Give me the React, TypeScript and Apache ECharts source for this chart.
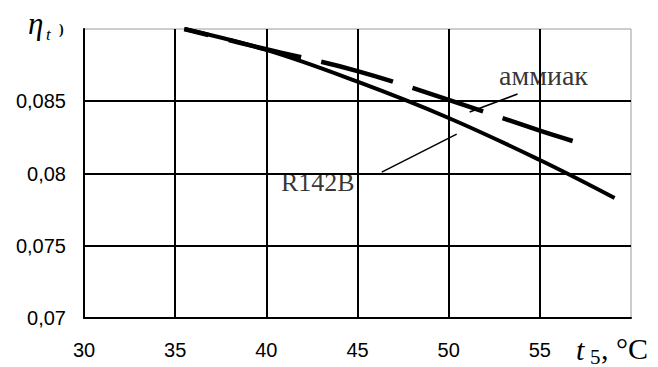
import React, { useEffect, useRef } from "react";
import * as echarts from "echarts";

const r142bT = [35.5, 40, 45, 50, 55, 59.1];
const r142bEta = [0.09, 0.08855, 0.08635, 0.08384, 0.08093, 0.0783];
const ammoniaT = [35.5, 40, 45, 50, 55, 56.8];
const ammoniaEta = [0.09, 0.0886, 0.08709, 0.08509, 0.08296, 0.08225];
const xTicks = [30, 35, 40, 45, 50, 55];
const yTicks = ["0,07", "0,075", "0,08", "0,085"];
const annotations = [
  { name: "аммиак", t: 55.2, eta: 0.08675, lineFrom: [51.15, 0.08426], lineTo: [53.78, 0.0855] },
  { name: "R142B", t: 42.82, eta: 0.07941, lineFrom: [46.33, 0.0801], lineTo: [50.44, 0.08273] },
];

export default function App() {
  const ref = useRef<HTMLDivElement>(null);
  useEffect(() => {
    const chart = echarts.init(ref.current!, undefined, { renderer: "svg" });
    const fmtY = (v: number) => {
      const s = String(Number(v.toFixed(4))).replace(".", ",");
      return yTicks.includes(s) ? s : "";
    };
    const fmtX = (v: number) => (xTicks.includes(v) ? String(v) : "");
    chart.setOption({
      animation: false,
      grid: { left: 84, top: 29, right: 27, bottom: 49, show: true, borderColor: "#9a9a9a", borderWidth: 1 },
      xAxis: {
        type: "value", min: 30, max: 60, interval: 5,
        axisLine: { lineStyle: { color: "#000", width: 2 } },
        axisTick: { show: false },
        axisLabel: { formatter: fmtX, color: "#000", fontFamily: "Liberation Sans", fontSize: 20, margin: 22 },
        splitLine: { show: true, showMinLine: false, showMaxLine: false, lineStyle: { color: "#000", width: 2 } },
      },
      yAxis: {
        type: "value", min: 0.07, max: 0.09, interval: 0.005,
        axisLine: { show: true, lineStyle: { color: "#000", width: 2 } },
        axisTick: { show: false },
        axisLabel: { formatter: fmtY, color: "#000", fontFamily: "Liberation Sans", fontSize: 20, margin: 18 },
        splitLine: { show: true, showMinLine: false, showMaxLine: false, lineStyle: { color: "#000", width: 2 } },
      },
      series: [
        {
          type: "line", smooth: 0.4, showSymbol: false,
          data: r142bT.map((t, i) => [t, r142bEta[i]]),
          lineStyle: { color: "#000", width: 4 },
          markLine: {
            silent: true, symbol: "none", label: { show: false },
            lineStyle: { color: "#000", width: 1.5, type: "solid" },
            data: annotations.map((a) => [{ coord: a.lineFrom }, { coord: a.lineTo }]),
          },
        },
        {
          type: "line", smooth: 0.4, showSymbol: false,
          data: ammoniaT.map((t, i) => [t, ammoniaEta[i]]),
          lineStyle: { color: "#000", width: 4.5, type: [74, 21], dashOffset: 49 },
        },
        {
          type: "scatter", symbolSize: 1, itemStyle: { color: "transparent" },
          data: annotations.map((a, i) => ({
            name: a.name, value: [a.t, a.eta],
            label: { fontSize: i === 0 ? 28 : 26 },
          })),
          label: {
            show: true, position: "inside", formatter: "{b}", color: "#000",
            fontFamily: "Liberation Serif", fontSize: 26,
          },
        },
      ],
      graphic: [
        { type: "text", left: 28, top: 8, style: { text: "η", font: "italic 31px 'Liberation Serif'", fill: "#000" } },
        { type: "text", left: 46, top: 26, style: { text: "t", font: "italic 17px 'Liberation Serif'", fill: "#000" } },
        { type: "text", left: 59, top: 22, style: { text: ")", font: "bold 14px 'Liberation Serif'", fill: "#000" } },
        { type: "text", left: 576, top: 334, style: { text: "t", font: "italic 30px 'Liberation Serif'", fill: "#000" } },
        { type: "text", left: 590, top: 346, style: { text: "5", font: "21px 'Liberation Serif'", fill: "#000" } },
        { type: "text", left: 601, top: 333, style: { text: ", °C", font: "30px 'Liberation Serif'", fill: "#000" } },
      ],
    });
    return () => chart.dispose();
  }, []);
  return <div ref={ref} style={{ width: 658, height: 367, position: "absolute", left: 0, top: 0, background: "#fff" }} />;
}
